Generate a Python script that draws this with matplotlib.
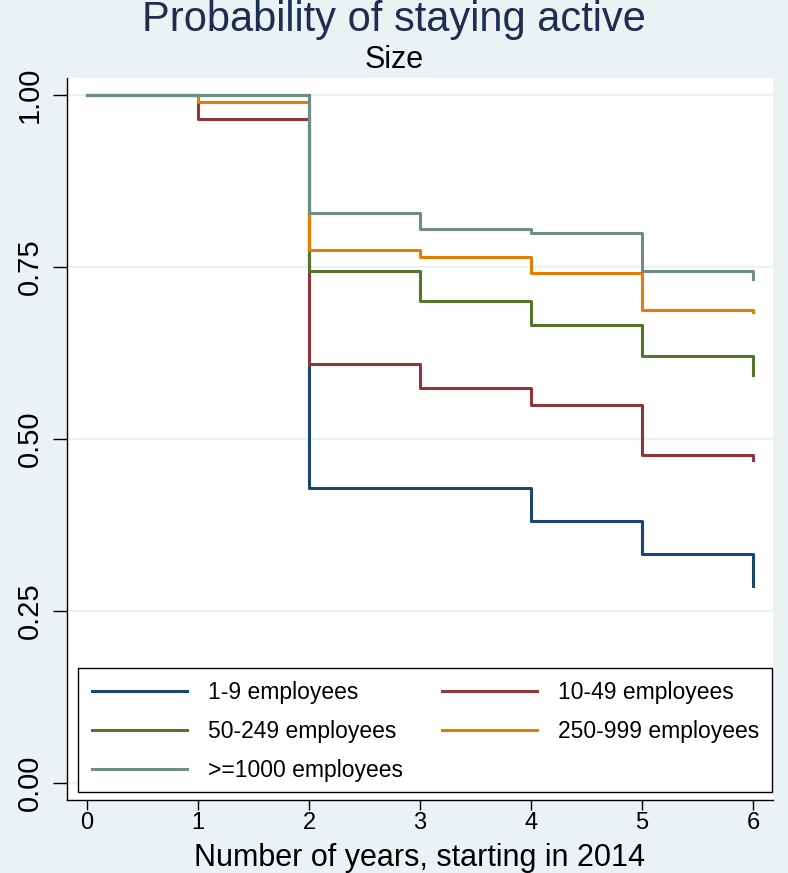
import matplotlib.pyplot as plt
from matplotlib.patches import Rectangle

# survival estimates by firm size, one value per year
years = [0, 1, 2, 3, 4, 5, 6]
size_labels = ["1-9 employees", "10-49 employees", "50-249 employees",
               "250-999 employees", ">=1000 employees"]
surv_1_9 = [1.0, 1.0, 0.4286, 0.4286, 0.381, 0.333, 0.286]
surv_10_49 = [1.0, 0.965, 0.609, 0.574, 0.549, 0.477, 0.470]
surv_50_249 = [1.0, 1.0, 0.745, 0.701, 0.666, 0.620, 0.593]
surv_250_999 = [1.0, 0.990, 0.775, 0.765, 0.741, 0.688, 0.685]
surv_1000 = [1.0, 1.0, 0.828, 0.805, 0.800, 0.744, 0.733]
x_ticks = [0, 1, 2, 3, 4, 5, 6]
y_ticks = [0.0, 0.25, 0.5, 0.75, 1.0]
y_ticklabels = ["0.00", "0.25", "0.50", "0.75", "1.00"]

colors = ["#1a476f", "#90353b", "#55752f", "#e37e00", "#6e8e84"]
bg = "#eaf2f3"

plt.rcParams["font.family"] = ["Liberation Sans", "DejaVu Sans"]

W, H = 788, 873
fig = plt.figure(figsize=(W / 100, H / 100), dpi=100, facecolor=bg)
ax = fig.add_axes([67 / W, 73 / H, 706 / W, 722 / H])
ax.set_facecolor("white")

for yv in y_ticks:
    ax.axhline(yv, color=bg, lw=1.6, zorder=0)

series = [surv_1_9, surv_10_49, surv_50_249, surv_250_999, surv_1000]
lines = []
for vals, lab, c in zip(series, size_labels, colors):
    ln, = ax.step(years, vals, where="post", color=c, lw=2.2, label=lab,
                  zorder=2)
    lines.append(ln)

ax.set_xlim(-0.18, 6.18)
ax.set_ylim(-0.025, 1.025)
ax.set_xticks(x_ticks)
ax.set_yticks(y_ticks)
ax.set_yticklabels(y_ticklabels, rotation=90, va="center")
ax.tick_params(axis="x", length=7.5, width=1, labelsize=17, pad=1.2)
ax.tick_params(axis="y", length=10, width=1, labelsize=21, pad=7)

for side in ["top", "right"]:
    ax.spines[side].set_visible(False)
for side in ["left", "bottom"]:
    ax.spines[side].set_linewidth(1)

ax.set_xlabel("Number of years, starting in 2014", fontsize=22,
              va="baseline")
ax.xaxis.set_label_coords(0.5, (7 - 73) / 722)

fig.text(0.5, 1 - 31 / H, "Probability of staying active", ha="center",
         va="baseline", fontsize=30, color="#1e2d52")
fig.text(0.5, 1 - 68 / H, "Size", ha="center", va="baseline", fontsize=22,
         color="black")

# legend frame, then one legend per column inside it
fig.add_artist(Rectangle((78 / W, 1 - 792 / H), 694 / W, 124 / H,
                         transform=fig.transFigure, facecolor="white",
                         edgecolor="black", lw=1, zorder=3))
leg_kw = dict(loc="upper left", frameon=False, fontsize=16.5,
              handlelength=4.15, handletextpad=0.92, labelspacing=0.7,
              borderpad=0, borderaxespad=0)
col1 = [0, 2, 4]
col2 = [1, 3]
leg1 = fig.legend([lines[i] for i in col1], [size_labels[i] for i in col1],
                  bbox_to_anchor=(92 / W, 1 - 681 / H), **leg_kw)
leg2 = fig.legend([lines[i] for i in col2], [size_labels[i] for i in col2],
                  bbox_to_anchor=(442 / W, 1 - 681 / H), **leg_kw)
leg1.set_zorder(4)
leg2.set_zorder(4)

fig.savefig("out.png", dpi=100, facecolor=bg)
